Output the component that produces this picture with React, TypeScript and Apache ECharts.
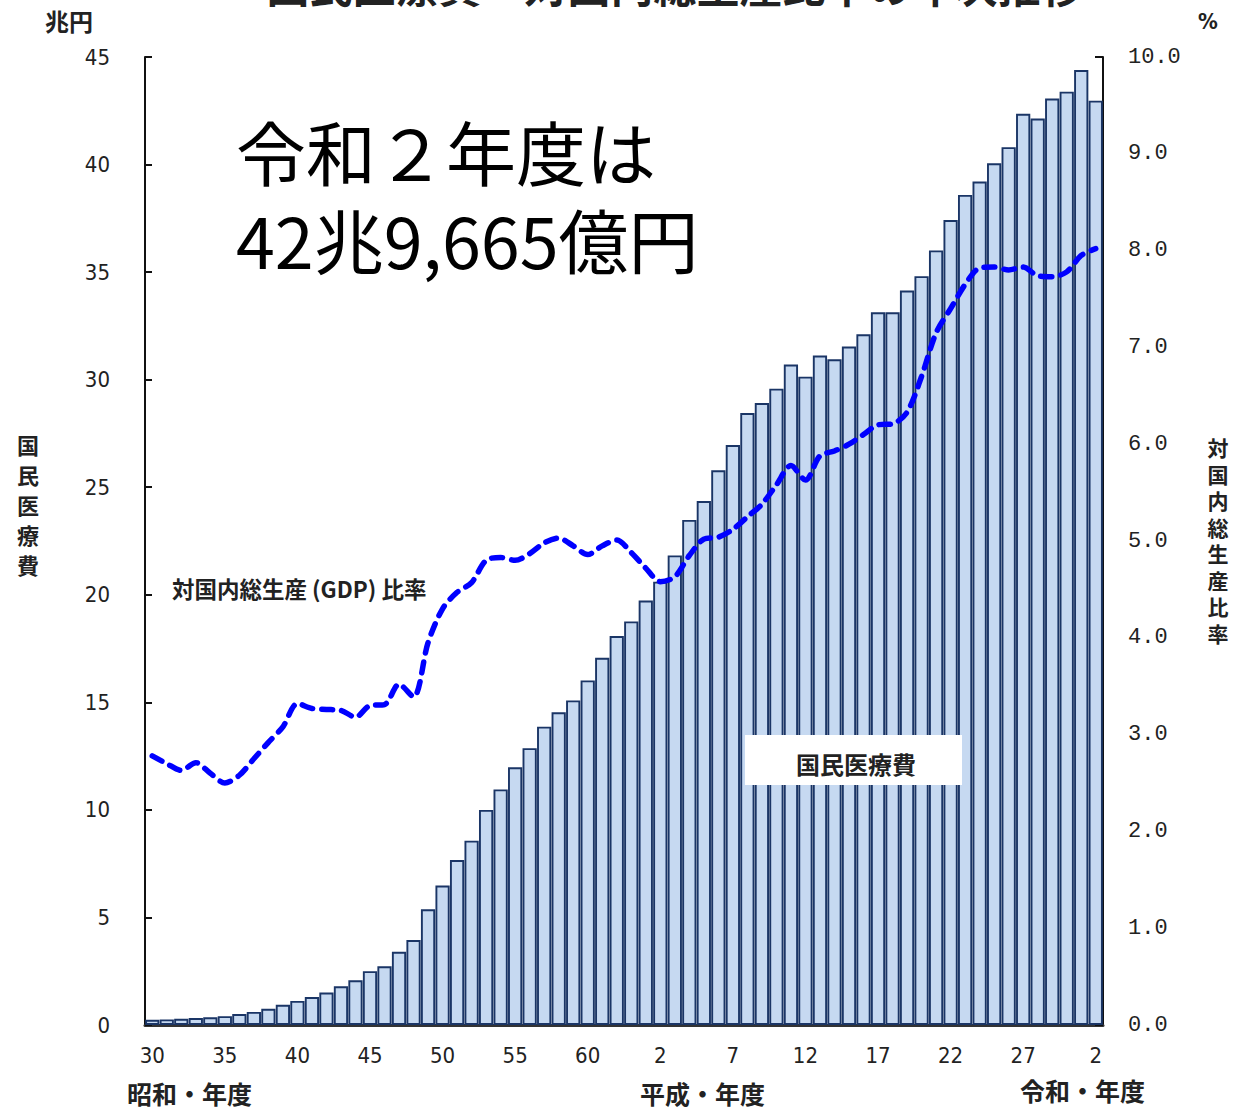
import React, { useEffect, useRef } from "react";
import * as echarts from "echarts";

// 年度 (昭和30年度 〜 令和2年度)
const categories = [
  "昭和30", "昭和31", "昭和32", "昭和33", "昭和34", "昭和35", "昭和36", "昭和37", "昭和38", "昭和39",
  "昭和40", "昭和41", "昭和42", "昭和43", "昭和44", "昭和45", "昭和46", "昭和47", "昭和48", "昭和49",
  "昭和50", "昭和51", "昭和52", "昭和53", "昭和54", "昭和55", "昭和56", "昭和57", "昭和58", "昭和59",
  "昭和60", "昭和61", "昭和62", "昭和63", "平成1", "平成2", "平成3", "平成4", "平成5", "平成6",
  "平成7", "平成8", "平成9", "平成10", "平成11", "平成12", "平成13", "平成14", "平成15", "平成16",
  "平成17", "平成18", "平成19", "平成20", "平成21", "平成22", "平成23", "平成24", "平成25", "平成26",
  "平成27", "平成28", "平成29", "平成30", "令和1", "令和2",
];

// 国民医療費 (兆円)
const medicalCost = [
  0.24, 0.26, 0.29, 0.32, 0.36, 0.41, 0.51, 0.61, 0.75, 0.94,
  1.12, 1.30, 1.51, 1.80, 2.08, 2.50, 2.73, 3.40, 3.95, 5.38,
  6.48, 7.67, 8.57, 10.00, 10.95, 11.98, 12.87, 13.87, 14.54, 15.09,
  16.02, 17.07, 18.08, 18.76, 19.73, 20.61, 21.83, 23.48, 24.36, 25.79,
  26.96, 28.45, 28.91, 29.58, 30.70, 30.14, 31.12, 30.95, 31.54, 32.11,
  33.13, 33.13, 34.14, 34.81, 36.01, 37.42, 38.59, 39.21, 40.06, 40.81,
  42.36, 42.14, 43.07, 43.39, 44.39, 42.97,
];

// 対国内総生産(GDP)比率 (%)
const gdpRatio = [
  2.78, 2.70, 2.63, 2.71, 2.60, 2.50, 2.58, 2.75, 2.92, 3.08,
  3.32, 3.27, 3.26, 3.25, 3.18, 3.30, 3.31, 3.52, 3.39, 3.95,
  4.30, 4.47, 4.57, 4.80, 4.83, 4.80, 4.87, 4.98, 5.03, 4.95,
  4.86, 4.95, 5.01, 4.88, 4.72, 4.58, 4.63, 4.85, 5.02, 5.04,
  5.12, 5.25, 5.38, 5.58, 5.78, 5.63, 5.88, 5.93, 6.00, 6.10,
  6.20, 6.21, 6.33, 6.70, 7.15, 7.40, 7.65, 7.82, 7.83, 7.80,
  7.83, 7.74, 7.73, 7.78, 7.95, 8.02,
];

const leftTicks = { min: 0, max: 45, interval: 5 };
const rightTicks = { min: 0, max: 10, interval: 1 };

const narrow = "'Liberation Sans Narrow', 'DejaVu Sans Condensed', 'Noto Sans CJK JP', sans-serif";
const cjk = "'Noto Sans CJK JP', sans-serif";

export default function App() {
  const ref = useRef<HTMLDivElement>(null);

  useEffect(() => {
    document.body.style.margin = "0";
    if (!ref.current) return;
    const chart = echarts.init(ref.current, null, { renderer: "svg" });

    const verticalText = (s: string, x: number, yCenter: number, pitch: number, size: number) => {
      const chars = s.split("");
      const top = yCenter - (pitch * (chars.length - 1)) / 2;
      return chars.map((c, i) => ({
        type: "text",
        x,
        y: top + i * pitch,
        style: {
          text: c,
          fontFamily: cjk,
          fontWeight: "bold",
          fontSize: size,
          fill: "#222",
          align: "center",
          verticalAlign: "middle",
        },
      }));
    };

    chart.setOption({
      animation: false,
      backgroundColor: "#ffffff",
      grid: { left: 145, right: 131, top: 57, bottom: 87, containLabel: false },
      xAxis: {
        type: "category",
        data: categories,
        axisLine: { show: true, lineStyle: { color: "#333", width: 3 } },
        axisTick: { show: false },
        axisLabel: {
          interval: (i: number) => i % 5 === 0,
          formatter: (v: string) => v.replace(/^(昭和|平成|令和)/, ""),
          fontFamily: narrow,
          fontSize: 22,
          color: "#222",
          margin: 19,
        },
        splitLine: { show: false },
      },
      yAxis: [
        {
          type: "value",
          ...leftTicks,
          position: "left",
          axisLine: { show: true, lineStyle: { color: "#111", width: 2 } },
          axisTick: { show: true, inside: true, length: 7, lineStyle: { color: "#111", width: 2 } },
          axisLabel: { fontFamily: narrow, fontSize: 22, color: "#222", margin: 35 },
          splitLine: { show: false },
        },
        {
          type: "value",
          ...rightTicks,
          position: "right",
          axisLine: { show: true, lineStyle: { color: "#111", width: 2 } },
          axisTick: { show: true, inside: true, length: 8, lineStyle: { color: "#111", width: 2 } },
          axisLabel: {
            fontFamily: "'Liberation Mono', 'DejaVu Sans Mono', monospace",
            fontSize: 22,
            color: "#222",
            margin: 25,
            formatter: (v: number) => v.toFixed(1),
          },
          splitLine: { show: false },
        },
      ],
      series: [
        {
          name: "国民医療費",
          type: "bar",
          yAxisIndex: 0,
          data: medicalCost,
          barCategoryGap: "2%",
          itemStyle: { color: "#c6d9f1", borderColor: "#1a3566", borderWidth: 1.9 },
          z: 2,
        },
        {
          name: "対国内総生産(GDP)比率",
          type: "line",
          yAxisIndex: 1,
          data: gdpRatio,
          symbol: "none",
          smooth: 0.3,
          lineStyle: { color: "#0000ff", width: 5.5, type: [11, 9], cap: "round" },
          z: 5,
        },
      ],
      graphic: [
        {
          type: "text",
          x: 675,
          y: 5,
          style: {
            text: "国民医療費・対国内総生産比率の年次推移",
            fontFamily: cjk,
            fontWeight: "bold",
            fontSize: 43,
            fill: "#222",
            align: "center",
            verticalAlign: "bottom",
          },
        },
        {
          type: "text",
          x: 45,
          y: 20,
          style: { text: "兆円", fontFamily: cjk, fontWeight: "bold", fontSize: 24, fill: "#222", verticalAlign: "middle" },
        },
        {
          type: "text",
          x: 1198,
          y: 21,
          style: { text: "%", fontFamily: narrow, fontWeight: "bold", fontSize: 22, fill: "#222", verticalAlign: "middle" },
        },
        ...verticalText("国民医療費", 28, 504, 30, 22),
        ...verticalText("対国内総生産比率", 1218, 540, 26.5, 21),
        {
          type: "text",
          x: 172,
          y: 588,
          style: { text: "対国内総生産 (GDP) 比率", fontFamily: cjk, fontWeight: "bold", fontSize: 22.5, fill: "#222", verticalAlign: "middle" },
        },
        {
          type: "rect",
          shape: { x: 745, y: 735, width: 217, height: 50 },
          style: { fill: "#ffffff" },
          z: 10,
        },
        {
          type: "text",
          x: 856,
          y: 763,
          z: 11,
          style: { text: "国民医療費", fontFamily: cjk, fontWeight: "bold", fontSize: 24, fill: "#222", align: "center", verticalAlign: "middle" },
        },
        {
          type: "text",
          x: 127,
          y: 1093,
          style: { text: "昭和・年度", fontFamily: cjk, fontWeight: "bold", fontSize: 25, fill: "#222", verticalAlign: "middle" },
        },
        {
          type: "text",
          x: 640,
          y: 1093,
          style: { text: "平成・年度", fontFamily: cjk, fontWeight: "bold", fontSize: 25, fill: "#222", verticalAlign: "middle" },
        },
        {
          type: "text",
          x: 1020,
          y: 1090,
          style: { text: "令和・年度", fontFamily: cjk, fontWeight: "bold", fontSize: 25, fill: "#222", verticalAlign: "middle" },
        },
        {
          type: "text",
          x: 236,
          y: 106,
          z: 20,
          style: {
            text: "令和２年度は\n42兆9,665億円",
            fontFamily: cjk,
            fontSize: 70,
            lineHeight: 88,
            fill: "#000",
            verticalAlign: "top",
          },
        },
      ],
    });

    return () => chart.dispose();
  }, []);

  return <div ref={ref} style={{ width: 1234, height: 1112 }} />;
}
